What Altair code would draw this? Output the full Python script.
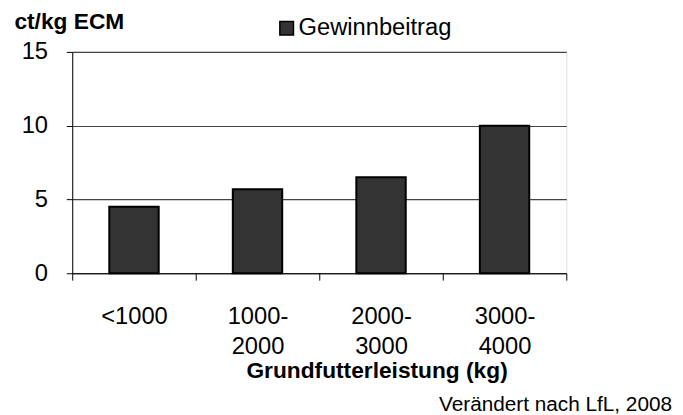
import altair as alt
import pandas as pd

categories = ["<1000", "1000-2000", "2000-3000", "3000-4000"]
values = [4.5, 5.7, 6.5, 10.0]
series = ["Gewinnbeitrag"] * 4

df = pd.DataFrame({"kat": categories, "wert": values, "serie": series})

FONT = "Liberation Sans"

bars = alt.Chart(df).mark_bar(size=50, stroke="black", strokeWidth=2).encode(
    x=alt.X(
        "kat:N",
        sort=categories,
        scale=alt.Scale(paddingInner=0, paddingOuter=0),
        axis=alt.Axis(
            title="Grundfutterleistung (kg)",
            labelAngle=0,
            labelExpr="datum.label == '<1000' ? datum.label : [slice(datum.label,0,5), slice(datum.label,5)]",
            labelFontSize=24,
            labelLineHeight=30,
            labelPadding=25,
            labelColor="black",
            labelFont=FONT,
            tickSize=7,
            tickColor="black",
            tickBand="extent",
            domainColor="black",
            titleFont=FONT,
            titleFontSize=23,
            titleFontWeight="bold",
            titleColor="black",
            titleX=308,
            titleY=98,
            titleBaseline="middle",
            titleAnchor="middle",
            grid=False,
        ),
    ),
    y=alt.Y(
        "wert:Q",
        scale=alt.Scale(domain=[0, 15], nice=False),
        axis=alt.Axis(
            values=[0, 5, 10, 15],
            title="ct/kg ECM",
            titleAngle=0,
            titleAlign="left",
            titleBaseline="middle",
            titleX=-59,
            titleY=-31,
            titleFont=FONT,
            titleFontSize=23,
            titleFontWeight="bold",
            titleColor="black",
            labelFont=FONT,
            labelFontSize=24,
            labelColor="black",
            labelPadding=19,
            tickSize=6,
            tickColor="black",
            domainColor="black",
            gridColor="#444444",
            gridWidth=1.2,
        ),
    ),
    color=alt.Color(
        "serie:N",
        scale=alt.Scale(range=["#333333"]),
        legend=alt.Legend(
            title=None,
            orient="none",
            legendX=205,
            legendY=-36,
            symbolType="square",
            symbolSize=190,
            symbolStrokeColor="black",
            symbolStrokeWidth=1.5,
            labelFont=FONT,
            labelFontSize=24,
            labelColor="black",
            labelOffset=0,
        ),
    ),
)

chart = bars.properties(
    width=500,
    height=224,
    autosize=alt.AutoSizeParams(type="none"),
    padding={"left": 65, "top": 42, "right": 110, "bottom": 141},
    title=alt.TitleParams(
        "Verändert nach LfL, 2008",
        orient="bottom",
        anchor="end",
        frame="group",
        font=FONT,
        fontSize=21,
        fontWeight="normal",
        color="black",
        dx=107,
        offset=12,
    ),
).configure_view(stroke="#333333", strokeWidth=1.2).configure(background="white")

chart.save("out.html", embed_options={"renderer": "svg", "actions": False})
